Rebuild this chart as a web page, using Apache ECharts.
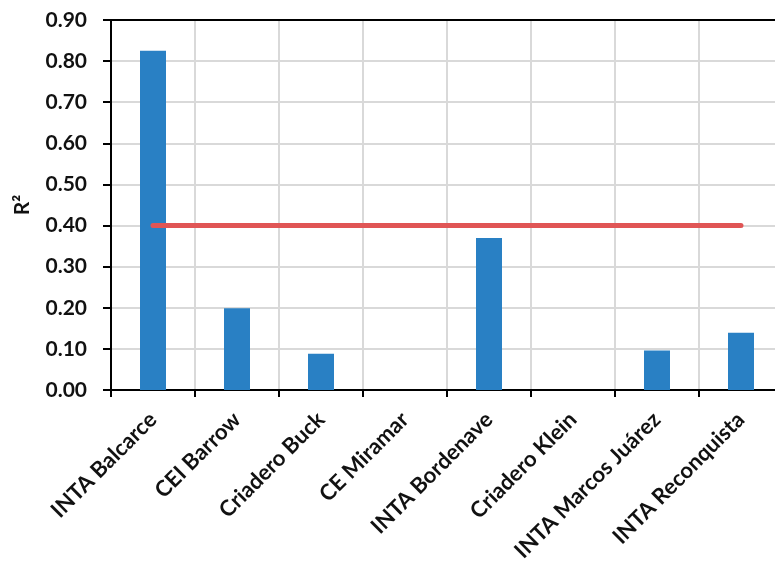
<!DOCTYPE html>
<html><head><meta charset="utf-8">
<script src="https://cdn.jsdelivr.net/npm/echarts@6/dist/echarts.min.js"></script>
<style>html,body{margin:0;padding:0;background:#fff;overflow:hidden;width:775px;height:573px}#c{width:784px;height:573px}</style>
</head><body><div id="c"></div>
<script>
const categories = ["INTA Balcarce","CEI Barrow","Criadero Buck","CE Miramar","INTA Bordenave","Criadero Klein","INTA Marcos Juárez","INTA Reconquista"];
const r2Values = [0.825, 0.199, 0.088, 0, 0.37, 0, 0.096, 0.139];
const thresholdValues = [0.40, 0.40, 0.40, 0.40, 0.40, 0.40, 0.40, 0.40];
const yMin = 0, yMax = 0.9, yInterval = 0.1;
const yTitle = "R²";

const font = "Lato, 'Open Sans', sans-serif";
const chart = echarts.init(document.getElementById('c'), null, {renderer:'canvas'});
chart.setOption({
  animation:false,
  backgroundColor:'#fff',
  grid:{left:111, top:20, right:1, bottom:183, containLabel:false},
  xAxis:[{
    type:'category', data:categories, boundaryGap:true,
    axisLine:{show:true, lineStyle:{color:'#000', width:2}},
    axisTick:{show:true, alignWithLabel:false, length:7, lineStyle:{color:'#000', width:2}},
    axisLabel:{rotate:45, interval:0, margin:26, fontSize:22, fontWeight:'bold', color:'#111', fontFamily:font},
    splitLine:{show:true, interval:0, lineStyle:{color:'#d9d9d9', width:2}}
  },{
    type:'category', data:categories, position:'top',
    axisLine:{show:true, lineStyle:{color:'#000', width:2}},
    axisTick:{show:false}, axisLabel:{show:false}, splitLine:{show:false}
  }],
  yAxis:{
    type:'value', min:yMin, max:yMax, interval:yInterval,
    name:yTitle, nameLocation:'middle', nameGap:78, nameRotate:90,
    nameTextStyle:{fontSize:21, fontWeight:'bold', color:'#111', fontFamily:font},
    axisLine:{show:true, lineStyle:{color:'#000', width:2}},
    axisTick:{show:true, length:8, lineStyle:{color:'#000', width:2}},
    axisLabel:{margin:24, fontSize:21, fontWeight:'bold', color:'#111', fontFamily:font, formatter:v=>v.toFixed(2)},
    splitLine:{show:true, lineStyle:{color:'#d9d9d9', width:2}}
  },
  series:[{
    type:'bar', data:r2Values, barWidth:26,
    itemStyle:{color:'#2980c4'}
  },{
    type:'line', data:thresholdValues, symbol:'none',
    lineStyle:{color:'#e05555', width:5, cap:'round'}
  }]
});
</script></body></html>
